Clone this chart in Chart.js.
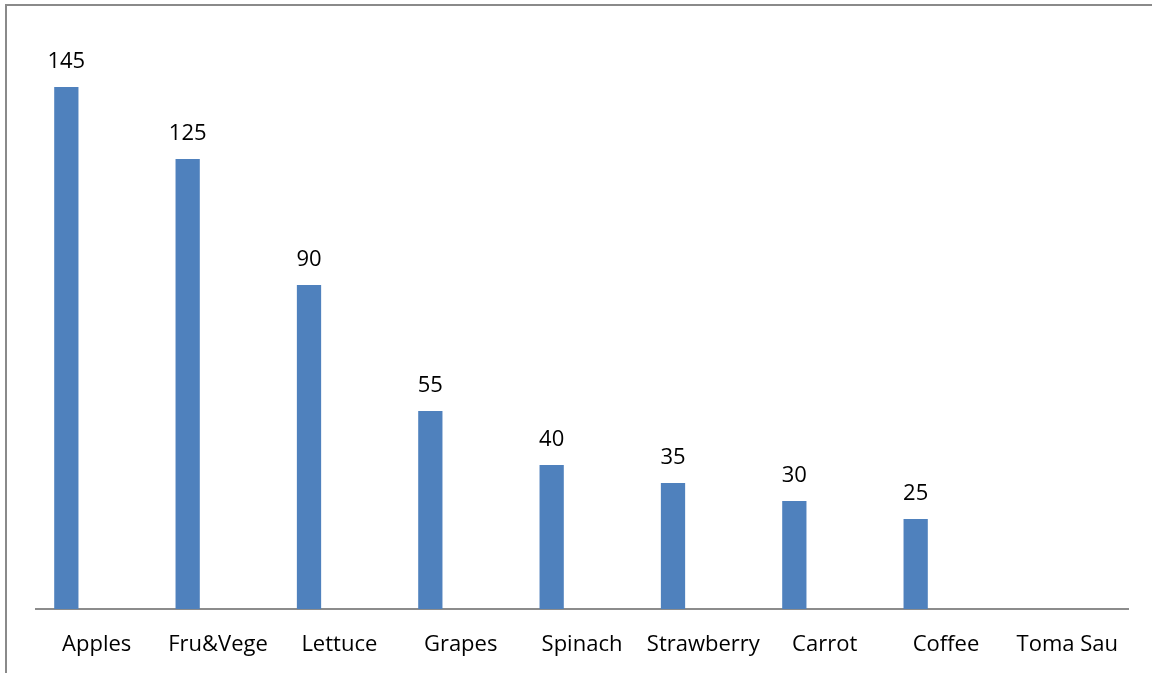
<!DOCTYPE html>
<html>
<head>
<meta charset="utf-8">
<script src="https://cdn.jsdelivr.net/npm/chart.js@4"></script>
<style>
    html, body { margin: 0; padding: 0; background: #fff; overflow: hidden; }
    #frame {
        position: absolute; left: 5px; top: 4px;
        width: 1400px; height: 900px;
        border: 2px solid #8a8a8a;
    }
    #wrap { position: absolute; left: 0; top: 0; width: 1152px; height: 673px; }
</style>
</head>
<body>
<div id="frame"></div>
<div id="wrap"><canvas id="bar_chart"></canvas></div>
<script>
var categories = ["Apples", "Fru&Vege", "Lettuce", "Grapes", "Spinach", "Strawberry", "Carrot", "Coffee", "Toma Sau"];
var values = [145, 125, 90, 55, 40, 35, 30, 25, null];
var empty_values = [null, null, null, null, null, null, null, null, null];

var fontFamily = "'Open Sans', 'Noto Sans', sans-serif";

// draws the value above each bar of the first series
var valueLabels = {
    id: 'valueLabels',
    afterDatasetsDraw: function (chart) {
        var ctx = chart.ctx;
        var meta = chart.getDatasetMeta(0);
        ctx.save();
        ctx.font = "22px " + fontFamily;
        ctx.fillStyle = "#000";
        ctx.textAlign = "center";
        ctx.textBaseline = "alphabetic";
        for (var i = 0; i < meta.data.length; i++) {
            var v = chart.data.datasets[0].data[i];
            if (v === null) continue;
            var bar = meta.data[i];
            ctx.fillText(String(v), bar.x, bar.y - 19.5);
        }
        ctx.restore();
    }
};

function buildBarChart() {
    var bc = document.getElementById('bar_chart');
    new Chart(bc, {
        type: 'bar',
        data: {
            labels: categories,
            datasets: [{
                data: values,
                backgroundColor: "#4F81BD",
                categoryPercentage: 1.0,
                barPercentage: 0.4
            },
            {
                data: empty_values,
                backgroundColor: "#C0504D",
                categoryPercentage: 1.0,
                barPercentage: 0.4
            }]
        },
        options: {
            responsive: true,
            maintainAspectRatio: false,
            animation: false,
            layout: { padding: { left: 36, right: 24, top: 33, bottom: 0 } },
            plugins: {
                legend: { display: false },
                tooltip: { enabled: false }
            },
            scales: {
                x: {
                    grid: { display: false, drawTicks: false },
                    border: { display: true, color: "#8c8c8c", width: 2 },
                    ticks: {
                        color: "#000",
                        padding: 23,
                        maxRotation: 0,
                        autoSkip: false,
                        font: { family: fontFamily, size: 22 }
                    },
                    afterFit: function (scale) { scale.height = 64; }
                },
                y: {
                    display: false,
                    min: 0,
                    max: 160
                }
            }
        },
        plugins: [valueLabels]
    });
}

buildBarChart();
</script>
</body>
</html>
